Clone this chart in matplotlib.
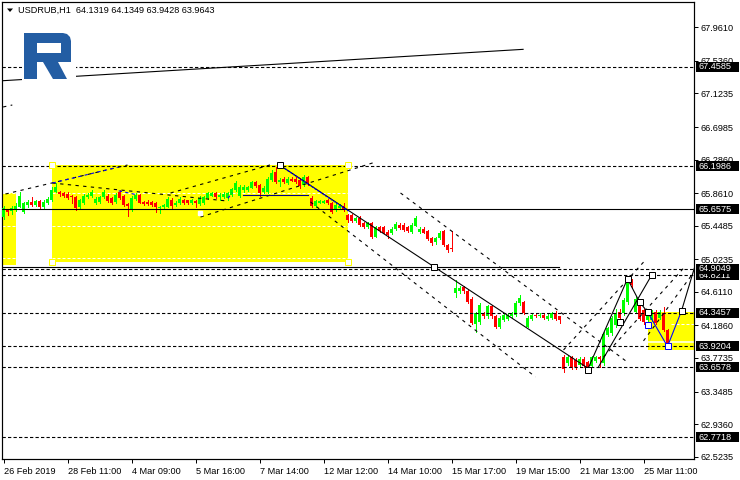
import matplotlib

matplotlib.use("Agg")
import numpy as np
from matplotlib import pyplot as plt
from matplotlib.patches import Rectangle, Polygon
from matplotlib.transforms import blended_transform_factory

# USDRUB H1 candles (one entry per bar)
opens = [65.56, 65.65, 65.63, 65.66, 65.69, 65.62, 65.71, 65.75, 65.71, 65.76,
         65.68, 65.74, 65.77, 65.88, 65.88, 65.86, 65.85, 65.82, 65.81, 65.69,
         65.74, 65.81, 65.83, 65.74, 65.75, 65.81, 65.83, 65.80, 65.75, 65.88,
         65.83, 65.72, 65.66, 65.79, 65.84, 65.75, 65.75, 65.75, 65.74, 65.67,
         65.69, 65.69, 65.77, 65.71, 65.74, 65.77, 65.77, 65.74, 65.76, 65.72,
         65.74, 65.80, 65.83, 65.86, 65.81, 65.81, 65.80, 65.84, 65.90, 65.82,
         65.90, 65.90, 65.93, 66.00, 65.96, 65.88, 65.88, 66.03, 66.13, 66.00,
         66.04, 65.99, 66.04, 66.04, 66.03, 65.96, 66.07, 65.80, 65.70, 65.74,
         65.74, 65.77, 65.74, 65.65, 65.67, 65.70, 65.58, 65.58, 65.51, 65.55,
         65.48, 65.43, 65.48, 65.31, 65.43, 65.43, 65.37, 65.35, 65.41, 65.46,
         65.46, 65.43, 65.37, 65.45, 65.37, 65.41, 65.38, 65.29, 65.24, 65.29,
         65.38, 65.20, 65.17, 64.60, 64.62, 64.67, 64.62, 64.52, 64.21, 64.23,
         64.34, 64.30, 64.43, 64.30, 64.17, 64.26, 64.27, 64.30, 64.32, 64.47,
         64.48, 64.17, 64.27, 64.32, 64.30, 64.32, 64.27, 64.28, 64.34, 64.30,
         63.79, 63.71, 63.79, 63.75, 63.69, 63.76, 63.72, 63.67, 63.73, 63.79,
         63.71, 64.07, 64.09, 64.19, 64.36, 64.34, 64.48, 64.74, 64.36, 64.44,
         64.38, 64.26, 64.26, 64.36, 64.28, 64.34, 64.1319]
highs = [65.70, 65.66, 65.70, 65.74, 65.87, 65.75, 65.77, 65.81, 65.78, 65.78,
         65.77, 65.81, 65.94, 65.99, 65.89, 65.88, 65.87, 65.84, 65.83, 65.79,
         65.85, 65.86, 65.90, 65.81, 65.83, 65.90, 65.85, 65.81, 65.86, 65.90,
         65.84, 65.74, 65.82, 65.86, 65.85, 65.76, 65.77, 65.76, 65.75, 65.70,
         65.72, 65.81, 65.80, 65.76, 65.81, 65.79, 65.78, 65.79, 65.77, 65.82,
         65.83, 65.88, 65.88, 65.88, 65.86, 65.87, 65.88, 65.93, 66.02, 65.96,
         65.96, 65.95, 66.02, 66.02, 65.98, 65.95, 66.06, 66.16, 66.19, 66.05,
         66.06, 66.06, 66.06, 66.06, 66.05, 66.09, 66.08, 65.82, 65.78, 65.78,
         65.77, 65.79, 65.75, 65.73, 65.72, 65.74, 65.60, 65.60, 65.56, 65.57,
         65.50, 65.50, 65.50, 65.45, 65.45, 65.45, 65.39, 65.43, 65.49, 65.48,
         65.48, 65.45, 65.48, 65.57, 65.43, 65.43, 65.40, 65.31, 65.31, 65.38,
         65.40, 65.22, 65.38, 64.76, 64.68, 64.69, 64.64, 64.54, 64.36, 64.47,
         64.36, 64.45, 64.45, 64.32, 64.30, 64.34, 64.34, 64.36, 64.49, 64.57,
         64.50, 64.30, 64.34, 64.33, 64.34, 64.34, 64.33, 64.36, 64.37, 64.31,
         63.81, 63.81, 63.80, 63.77, 63.78, 63.78, 63.74, 63.80, 63.80, 63.80,
         64.10, 64.17, 64.30, 64.40, 64.40, 64.53, 64.80, 64.78, 64.56, 64.48,
         64.40, 64.37, 64.38, 64.38, 64.38, 64.42, 64.1349]
lows = [65.53, 65.59, 65.60, 65.64, 65.68, 65.61, 65.69, 65.70, 65.70, 65.67,
        65.66, 65.72, 65.76, 65.87, 65.83, 65.81, 65.79, 65.74, 65.65, 65.67,
        65.72, 65.80, 65.81, 65.72, 65.74, 65.80, 65.75, 65.72, 65.73, 65.79,
        65.70, 65.57, 65.64, 65.78, 65.73, 65.71, 65.71, 65.70, 65.62, 65.61,
        65.67, 65.68, 65.67, 65.70, 65.72, 65.72, 65.72, 65.72, 65.68, 65.71,
        65.72, 65.79, 65.82, 65.80, 65.77, 65.80, 65.78, 65.83, 65.89, 65.81,
        65.88, 65.89, 65.92, 65.94, 65.83, 65.86, 65.86, 66.02, 65.99, 65.95,
        65.99, 65.98, 66.01, 65.99, 65.93, 65.95, 65.97, 65.68, 65.68, 65.73,
        65.73, 65.72, 65.61, 65.64, 65.66, 65.63, 65.50, 65.49, 65.50, 65.45,
        65.42, 65.42, 65.29, 65.30, 65.37, 65.35, 65.29, 65.34, 65.40, 65.41,
        65.38, 65.37, 65.36, 65.44, 65.36, 65.35, 65.27, 65.21, 65.22, 65.28,
        65.19, 65.12, 65.13, 64.55, 64.60, 64.60, 64.47, 64.20, 64.10, 64.21,
        64.28, 64.28, 64.28, 64.15, 64.15, 64.24, 64.26, 64.29, 64.30, 64.45,
        64.33, 64.16, 64.26, 64.29, 64.29, 64.27, 64.26, 64.27, 64.26, 64.22,
        63.60, 63.69, 63.64, 63.64, 63.67, 63.66, 63.62, 63.66, 63.72, 63.66,
        63.69, 64.05, 64.07, 64.17, 64.19, 64.32, 64.46, 64.66, 64.34, 64.25,
        64.21, 64.19, 64.24, 64.20, 64.27, 64.11, 63.9428]
closes = [65.67, 65.62, 65.67, 65.70, 65.83, 65.74, 65.75, 65.71, 65.76, 65.68,
          65.75, 65.79, 65.90, 65.94, 65.85, 65.83, 65.80, 65.81, 65.67, 65.77,
          65.83, 65.84, 65.88, 65.79, 65.81, 65.88, 65.76, 65.74, 65.84, 65.80,
          65.71, 65.70, 65.80, 65.84, 65.74, 65.72, 65.72, 65.71, 65.69, 65.69,
          65.71, 65.79, 65.70, 65.74, 65.79, 65.74, 65.74, 65.77, 65.74, 65.80,
          65.81, 65.86, 65.86, 65.81, 65.84, 65.85, 65.86, 65.91, 65.99, 65.94,
          65.94, 65.94, 66.00, 65.95, 65.86, 65.93, 66.04, 66.12, 66.00, 66.03,
          66.00, 66.04, 66.02, 66.00, 65.95, 66.07, 65.99, 65.70, 65.76, 65.76,
          65.76, 65.74, 65.62, 65.71, 65.70, 65.65, 65.52, 65.51, 65.55, 65.46,
          65.43, 65.48, 65.31, 65.43, 65.38, 65.36, 65.33, 65.41, 65.47, 65.42,
          65.39, 65.38, 65.46, 65.55, 65.41, 65.36, 65.28, 65.23, 65.29, 65.36,
          65.20, 65.14, 65.15, 64.66, 64.66, 64.62, 64.48, 64.22, 64.34, 64.45,
          64.30, 64.43, 64.30, 64.17, 64.28, 64.32, 64.32, 64.34, 64.47, 64.53,
          64.34, 64.28, 64.32, 64.30, 64.32, 64.28, 64.31, 64.34, 64.27, 64.26,
          63.63, 63.79, 63.66, 63.66, 63.76, 63.67, 63.66, 63.78, 63.78, 63.76,
          64.08, 64.15, 64.28, 64.34, 64.28, 64.51, 64.76, 64.70, 64.52, 64.27,
          64.23, 64.36, 64.36, 64.22, 64.36, 64.13, 63.9643]

time_labels = ["26 Feb 2019", "28 Feb 11:00", "4 Mar 09:00", "5 Mar 16:00",
               "7 Mar 14:00", "12 Mar 12:00", "14 Mar 10:00", "15 Mar 17:00",
               "19 Mar 15:00", "21 Mar 13:00", "25 Mar 11:00"]
time_label_bars = [0, 16, 32, 48, 64, 80, 96, 112, 128, 144, 160]

price_ticks = [67.9610, 67.5360, 67.1235, 66.6985, 66.2860, 65.8610, 65.4485,
               65.0235, 64.6110, 64.1860, 63.7735, 63.3485, 62.9360, 62.5235]

# horizontal levels with their black price tags (drawn in this order)
level_prices = [67.4585, 66.1986, 65.6575, 64.8211, 64.9049, 64.3457,
                63.9204, 63.6578, 62.7718]
solid_levels = [65.6575]

# drawn objects, as (bar, price) points
yellow_rects = [(-0.4, 3.0, 64.95, 65.86), (12.0, 86.0, 64.99, 66.22),
                (161.0, 172.7, 63.87, 64.35)]
white_dashed = [(-0.4, 86.0, 65.869), (-0.4, 86.0, 65.449),
                (-0.4, 86.0, 65.036), (166.75, 172.7, 64.20)]
white_solid = [(161.0, 172.7, 63.976)]
rect_handles = [(12, 66.22), (86, 66.22), (12, 64.99), (86, 64.99)]

solid_lines = [
    [(-0.1, 67.285), (129.9, 67.682)],
    [(69, 66.217), (146, 63.648)],
    [(146, 63.623), (156, 64.776), (159, 64.483), (161, 64.357)],
    [(148.75, 63.661), (162, 64.82)],
    [(169.5, 64.37), (172.7, 64.91)],
    [(-0.4, 64.922), (138.75, 64.922)],
]
dashed_lines = [
    [(-0.1, 66.952), (2.2, 66.977)],
    [(0.5, 65.850), (31, 66.217)],
    [(12.25, 65.989), (56, 65.761)],
    [(41.75, 65.863), (67.5, 66.23)],
    [(49.25, 65.559), (93, 66.255)],
    [(99.25, 65.863), (156.25, 63.711)],
    [(76.75, 65.749), (133, 63.534)],
    [(140, 63.875), (160.5, 65.015)],
    [(150, 63.787), (170, 64.91)],
    [(160, 63.99), (172, 64.82)],
]
blue_dashed = [[(12.25, 65.989), (28.75, 66.192)], [(28.8, 65.89), (33.4, 65.84)],
               [(56.1, 65.795), (57.2, 65.866)]]
blue_dotted = [[(69, 66.217), (86.25, 65.635)]]
navy_lines = [[(59.75, 65.837), (76, 65.837)]]
blue_solid = [[(161, 64.357), (166, 63.92), (169.5, 64.37)]]
squares_black = [(69, 66.217), (107.5, 64.925), (146, 63.623), (156, 64.776),
                 (162, 64.82), (154, 64.231), (159, 64.483), (161, 64.357),
                 (169.5, 64.37)]
squares_blue = [(161, 64.192), (166, 63.92)]

W, H = 740, 480
PX = 72 / 100  # one pixel in points
FONT = "Liberation Sans"
FS = 6.6

fig = plt.figure(figsize=(W / 100, H / 100), dpi=100)
fig.patch.set_facecolor("white")
ax = fig.add_axes([2 / W, 1 - 459.3 / H, 692 / W, 457.6 / H])
# bar i sits on pixel column 3 + 4*i
ax.set_xlim(-0.375, 172.625)
ax.set_ylim(62.4906, 68.2852)

o = np.array(opens)
h = np.array(highs)
l = np.array(lows)
c = np.array(closes)
x = np.arange(len(o))

# background rectangles
for x0, x1, y0, y1 in yellow_rects:
    ax.add_patch(Rectangle((x0, y0), x1 - x0, y1 - y0, facecolor="#ffff00",
                           edgecolor="none", zorder=1))
for x0, x1, y in white_dashed:
    ax.plot([x0, x1], [y, y], color="white", lw=PX, ls=(0, (3, 2)), zorder=1.5)
for x0, x1, y in white_solid:
    ax.plot([x0, x1], [y, y], color="white", lw=1.5 * PX, zorder=1.5)

# candles
up = c >= o
col = np.where(up, "#00ff00", "#ff0000")
body_lo = np.minimum(o, c)
body_h = np.maximum(np.abs(c - o), 0.013)
ax.vlines(x, l, h, colors=col, lw=PX, zorder=3, antialiased=False)
ax.bar(x, body_h, bottom=body_lo, width=0.75, color=col, linewidth=0,
       zorder=3.1, antialiased=False)

# horizontal levels
for p in level_prices:
    ls = "-" if p in solid_levels else (0, (3, 2))
    ax.axhline(p, color="black", lw=PX * 1.1, ls=ls, zorder=4)

for pts in solid_lines:
    xs, ys = zip(*pts)
    ax.plot(xs, ys, color="black", lw=PX * 1.1, zorder=4)
for pts in dashed_lines:
    xs, ys = zip(*pts)
    ax.plot(xs, ys, color="black", lw=PX * 1.1, ls=(0, (3, 4)), zorder=4)
for pts in blue_dashed:
    xs, ys = zip(*pts)
    ax.plot(xs, ys, color="#0000ff", lw=PX * 1.1, ls=(0, (3, 3)), zorder=4.1)
for pts in blue_dotted:
    xs, ys = zip(*pts)
    ax.plot(xs, ys, color="#0000ff", lw=PX * 1.3, ls=(0, (1.5, 1)), zorder=4.1)
for pts in navy_lines:
    xs, ys = zip(*pts)
    ax.plot(xs, ys, color="#000080", lw=PX * 1.1, zorder=4.1)
for pts in blue_solid:
    xs, ys = zip(*pts)
    ax.plot(xs, ys, color="#0000ff", lw=PX * 1.1, zorder=4.1)

hx, hy = zip(*rect_handles)
ax.plot(hx, hy, ls="none", marker="s", ms=4.5, mfc="white", mec="#ffff00",
        mew=PX, zorder=4.5)
ax.plot([49], [65.61], ls="none", marker="s", ms=3.5, mfc="white", mec="white",
        zorder=4.5)
sx, sy = zip(*squares_black)
ax.plot(sx, sy, ls="none", marker="s", ms=4.5, mfc="white", mec="black",
        mew=PX, zorder=5)
bx, by = zip(*squares_blue)
ax.plot(bx, by, ls="none", marker="s", ms=4.5, mfc="white", mec="#0000ff",
        mew=PX, zorder=5)

# axes, ticks and labels
for s in ax.spines.values():
    s.set_linewidth(PX * 1.2)
    s.set_color("black")
ax.yaxis.tick_right()
ax.set_yticks(price_ticks)
ax.set_yticklabels([f"{p:.4f}" for p in price_ticks], fontfamily=FONT,
                   fontsize=FS)
ax.tick_params(axis="y", direction="out", length=3, width=PX, pad=1.5)
ax.set_xticks(time_label_bars)
ax.set_xticklabels(time_labels, fontfamily=FONT, fontsize=FS, ha="left")
ax.tick_params(axis="x", direction="out", length=3, width=PX, pad=2.5)

tr = blended_transform_factory(ax.transAxes, ax.transData)
half = 5 / 78.97
for k, p in enumerate(level_prices):
    ax.add_patch(Rectangle((1.0029, p - half), 0.062, 2 * half, transform=tr,
                           facecolor="black", edgecolor="none", clip_on=False,
                           zorder=10 + 2 * k))
    ax.text(1.0065, p, f"{p:.4f}", transform=tr, color="white", va="center",
            ha="left", fontfamily=FONT, fontsize=FS, clip_on=False,
            zorder=11 + 2 * k)

# chart caption with the little menu triangle
fig.add_artist(Polygon([(7 / W, 1 - 8.5 / H), (13 / W, 1 - 8.5 / H),
                        (10 / W, 1 - 12 / H)], closed=True,
                       transform=fig.transFigure, facecolor="black",
                       edgecolor="none"))
fig.text(18 / W, 1 - 10.5 / H, "USDRUB,H1  64.1319 64.1349 63.9428 63.9643",
         fontfamily=FONT, fontsize=FS, va="center", ha="left")

# logo
lg = fig.add_axes([22 / W, 1 - 82 / H, 54 / W, 52 / H])
lg.set_xlim(22, 76)
lg.set_ylim(82, 30)
lg.set_xticks([])
lg.set_yticks([])
for s in lg.spines.values():
    s.set_visible(False)
lg.set_facecolor("white")
blue = "#235da3"
lg.add_patch(Polygon([(24, 33), (63, 33), (67, 34), (70, 37), (71, 41),
                      (71, 62), (37, 62), (37, 79), (24, 79)], closed=True,
                     facecolor=blue, edgecolor="none"))
lg.add_patch(Rectangle((37, 43.3), 24, 10, facecolor="white", edgecolor="none"))
lg.add_patch(Polygon([(43, 62), (58, 62), (67, 79), (53, 79)], closed=True,
                     facecolor=blue, edgecolor="none"))

fig.savefig("out.png", dpi=100, facecolor="white")
